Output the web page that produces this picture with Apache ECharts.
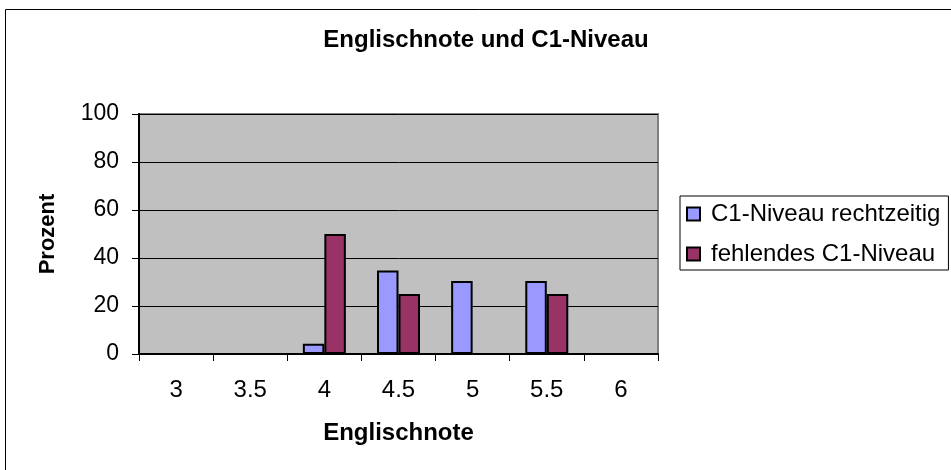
<!DOCTYPE html>
<html>
<head>
<meta charset="utf-8">
<script src="https://cdn.jsdelivr.net/npm/echarts@6/dist/echarts.min.js"></script>
<style>html,body{margin:0;padding:0;background:#fff}#c{width:951px;height:470px}</style>
</head>
<body>
<div id="c"></div>
<script>
var categories = ['3', '3.5', '4', '4.5', '5', '5.5', '6'];
var seriesNames = ['C1-Niveau rechtzeitig', 'fehlendes C1-Niveau'];
var onTime = [0, 0, 4.3, 34.8, 30.4, 30.4, 0];
var missing = [0, 0, 50, 25, 0, 25, 0];
var yTicks = [0, 20, 40, 60, 80, 100];

var F = '"Liberation Sans", Arial, sans-serif';
var chart = echarts.init(document.getElementById('c'), null, {renderer: 'canvas'});
chart.setOption({
  animation: false,
  backgroundColor: '#fff',
  title: {
    text: 'Englischnote und C1-Niveau',
    left: 486, top: 28, textAlign: 'center', padding: 0,
    textStyle: {fontFamily: F, fontSize: 24, fontWeight: 'bold', color: '#000'}
  },
  graphic: [{
    type: 'rect', shape: {x: 5.5, y: 9.5, width: 980, height: 480},
    style: {fill: 'none', stroke: '#000', lineWidth: 1}, silent: true, z: -1
  }],
  legend: {
    orient: 'vertical', left: 680, top: 196,
    padding: [6, 8, 4, 6],
    borderColor: '#000', borderWidth: 1,
    itemWidth: 13, itemHeight: 13, itemGap: 16,
    icon: 'rect',
    textStyle: {fontFamily: F, fontSize: 24, color: '#000', padding: [0, 0, 0, 6]},
    data: seriesNames
  },
  grid: {left: 139, top: 114, width: 519, height: 240, show: true,
    backgroundColor: '#C0C0C0', borderColor: '#808080', borderWidth: 2},
  xAxis: {
    type: 'category', data: categories,
    name: 'Englischnote', nameLocation: 'middle', nameGap: 67,
    nameTextStyle: {fontFamily: F, fontSize: 24, fontWeight: 'bold', color: '#000'},
    axisLine: {lineStyle: {color: '#000', width: 2}},
    axisTick: {show: true, alignWithLabel: false, length: 7, lineStyle: {color: '#000', width: 1}},
    axisLabel: {fontFamily: F, fontSize: 24, color: '#000', margin: 24},
    splitLine: {show: false}
  },
  yAxis: {
    type: 'value', min: 0, max: 100, interval: 20,
    name: 'Prozent', nameLocation: 'middle', nameGap: 80,
    nameTextStyle: {fontFamily: F, fontSize: 22, fontWeight: 'bold', color: '#000'},
    axisLine: {show: true, lineStyle: {color: '#000', width: 2}},
    axisTick: {show: true, length: 7, lineStyle: {color: '#000', width: 1}},
    axisLabel: {fontFamily: F, fontSize: 23, color: '#000', margin: 20,
      formatter: function (v) { return yTicks.indexOf(v) >= 0 ? String(v) : ''; }},
    splitLine: {show: true, lineStyle: {color: '#000', width: 1}}
  },
  series: [{
    name: seriesNames[0], type: 'bar', data: onTime,
    barGap: '0%', barCategoryGap: '42%',
    itemStyle: {color: '#9999FF', borderColor: '#000', borderWidth: 2}
  }, {
    name: seriesNames[1], type: 'bar', data: missing,
    barGap: '0%', barCategoryGap: '42%',
    itemStyle: {color: '#993366', borderColor: '#000', borderWidth: 2}
  }]
});
</script>
</body>
</html>
